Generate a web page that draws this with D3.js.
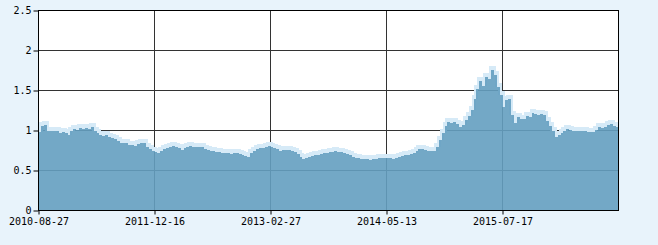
<!DOCTYPE html>
<html>
<head>
<meta charset="utf-8">
<script src="https://cdn.jsdelivr.net/npm/d3@7"></script>
<style>
  html, body { margin: 0; padding: 0; background: #e8f3fb; }
  svg { display: block; }
  .tick text { font-family: "DejaVu Sans Mono", monospace; font-size: 10px; fill: #000; }
</style>
</head>
<body>
<div id="chart"></div>
<script>
const WIDTH = 658
const HEIGHT = 245

// tick labels on the x axis, one every `tickStep` points
const tickLabels = ['2010-08-27', '2011-12-16', '2013-02-27', '2014-05-13', '2015-07-17']
const tickStep = 40
const yTicks = [0, 0.5, 1, 1.5, 2, 2.5]

// values
const values = [
  0.98, 1.06, 1.07, 1.00, 1.00, 0.99, 0.99, 0.97, 0.98, 0.97,
  0.95, 1.00, 1.02, 1.01, 1.03, 1.02, 1.03, 1.02, 1.04, 1.00,
  0.97, 0.95, 0.93, 0.94, 0.92, 0.91, 0.89, 0.87, 0.85, 0.85,
  0.84, 0.82, 0.82, 0.81, 0.83, 0.84, 0.85, 0.80, 0.77, 0.75,
  0.73, 0.72, 0.74, 0.77, 0.78, 0.79, 0.81, 0.80, 0.78, 0.76,
  0.78, 0.80, 0.81, 0.80, 0.80, 0.79, 0.79, 0.77, 0.76, 0.75,
  0.74, 0.73, 0.73, 0.72, 0.72, 0.72, 0.71, 0.72, 0.72, 0.71,
  0.70, 0.68, 0.67, 0.72, 0.75, 0.77, 0.78, 0.78, 0.80, 0.81,
  0.80, 0.78, 0.77, 0.75, 0.76, 0.76, 0.76, 0.75, 0.73, 0.71,
  0.67, 0.65, 0.66, 0.67, 0.68, 0.70, 0.70, 0.71, 0.72, 0.72,
  0.73, 0.73, 0.74, 0.73, 0.73, 0.72, 0.71, 0.69, 0.67, 0.66,
  0.66, 0.65, 0.65, 0.64, 0.63, 0.64, 0.65, 0.66, 0.66, 0.66,
  0.66, 0.66, 0.65, 0.66, 0.67, 0.68, 0.69, 0.70, 0.71, 0.72,
  0.74, 0.77, 0.77, 0.76, 0.75, 0.74, 0.74, 0.79, 0.88, 0.97,
  1.06, 1.11, 1.10, 1.11, 1.08, 1.04, 1.07, 1.13, 1.18, 1.26,
  1.40, 1.52, 1.62, 1.56, 1.67, 1.64, 1.76, 1.70, 1.55, 1.44,
  1.30, 1.38, 1.40, 1.20, 1.10, 1.17, 1.15, 1.15, 1.18, 1.17,
  1.22, 1.21, 1.20, 1.21, 1.19, 1.12, 1.06, 1.00, 0.92, 0.94,
  0.97, 1.00, 1.02, 1.01, 1.00, 0.99, 1.00, 1.00, 0.99, 0.98,
  0.98, 0.98, 1.01, 1.04, 1.03, 1.05, 1.07, 1.08, 1.06, 1.04,
  1.04
]

const plot = {left: 38.5, right: 618.5, top: 10.5, bottom: 210.5}

const svg = d3.select('#chart')
  .append('svg')
    .attr('width', WIDTH)
    .attr('height', HEIGHT)

const x = d3.scaleLinear().domain([0, values.length - 1]).range([plot.left, plot.right])
const y = d3.scaleLinear().domain([0, 2.5]).range([plot.bottom, plot.top])

// plot background
svg.append('rect')
  .attr('x', plot.left).attr('y', plot.top)
  .attr('width', plot.right - plot.left).attr('height', plot.bottom - plot.top)
  .attr('fill', '#fff')

// grid, drawn under the area so it shows through
const tickIdx = tickLabels.map((_, i) => i * tickStep)
svg.append('g').selectAll('line').data(yTicks.slice(1, -1)).join('line')
  .attr('x1', plot.left).attr('x2', plot.right)
  .attr('y1', d => y(d)).attr('y2', d => y(d))
  .attr('stroke', '#333')
svg.append('g').selectAll('line').data(tickIdx.slice(1)).join('line')
  .attr('x1', d => x(d)).attr('x2', d => x(d))
  .attr('y1', plot.top).attr('y2', plot.bottom)
  .attr('stroke', '#333')

// area with a light fringe along its top, stepped like the original
const area = d3.area()
  .x((d, i) => x(i))
  .y0(y(0))
  .y1(d => y(d))
  .curve(d3.curveStepAfter)
const line = d3.line()
  .x((d, i) => x(i))
  .y(d => y(d))
  .curve(d3.curveStepAfter)

svg.append('path')
  .datum(values)
  .attr('d', line)
  .attr('fill', 'none')
  .attr('stroke', '#d6eaf7')
  .attr('stroke-width', 4)
  .attr('shape-rendering', 'crispEdges')
  .attr('transform', 'translate(0,-2)')

svg.append('path')
  .datum(values)
  .attr('d', area)
  .attr('fill', 'rgb(100,159,192)')
  .attr('fill-opacity', 0.9)
  .attr('shape-rendering', 'crispEdges')

// frame
svg.append('rect')
  .attr('x', plot.left).attr('y', plot.top)
  .attr('width', plot.right - plot.left).attr('height', plot.bottom - plot.top)
  .attr('fill', 'none')
  .attr('stroke', '#000')

// axes
const xAxis = d3.axisBottom(x)
  .tickValues(tickIdx)
  .tickFormat((d, i) => tickLabels[i])
  .tickSize(4)
  .tickPadding(3)
const yAxis = d3.axisLeft(y)
  .tickValues(yTicks)
  .tickFormat(d3.format('~g'))
  .tickSize(5)
  .tickPadding(2)

svg.append('g')
  .attr('transform', `translate(0,${plot.bottom})`)
  .call(xAxis)
  .call(g => g.select('.domain').remove())
  .call(g => g.selectAll('.tick line').attr('stroke', '#000'))

svg.append('g')
  .attr('transform', `translate(${plot.left},0)`)
  .call(yAxis)
  .call(g => g.select('.domain').remove())
  .call(g => g.selectAll('.tick line').attr('stroke', '#000'))
</script>
</body>
</html>
